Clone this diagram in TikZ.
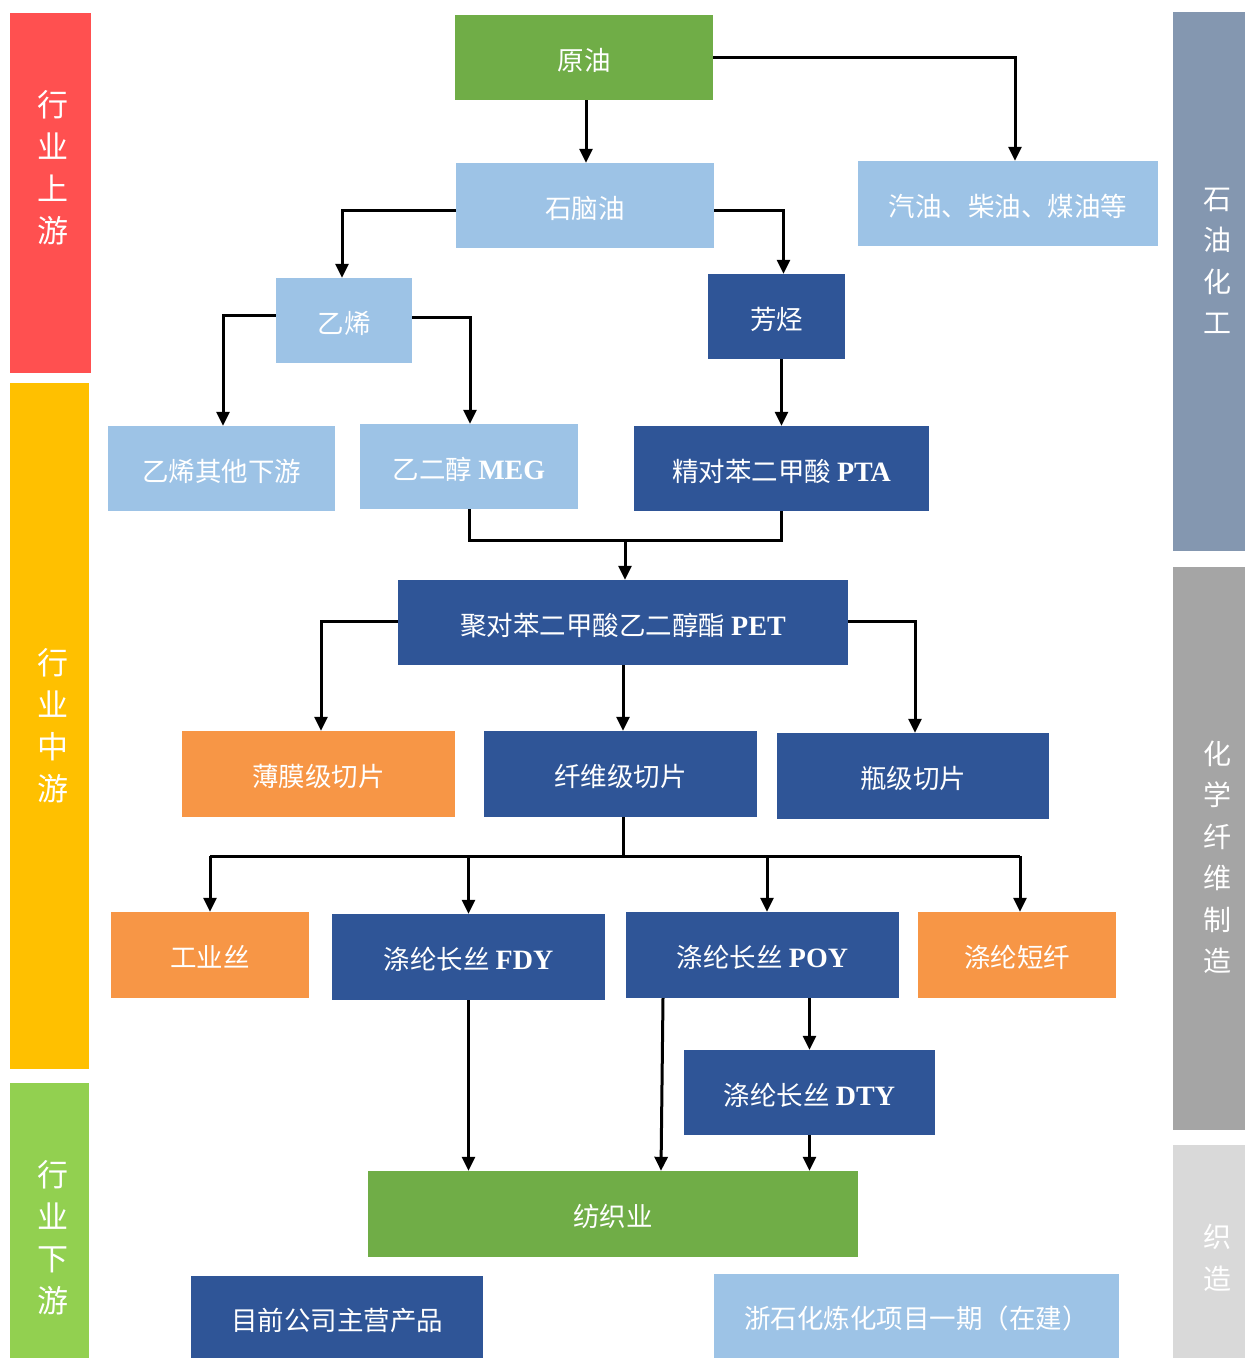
\documentclass[tikz,border=0pt]{standalone}
\usepackage{fontspec}
\setmainfont{Liberation Serif}
\newfontfamily\cjk{Noto Sans CJK SC}
\usetikzlibrary{arrows.meta}
\definecolor{cgreen}{HTML}{70AD47}
\definecolor{clblue}{HTML}{9DC3E6}
\definecolor{cdblue}{HTML}{2F5597}
\definecolor{corange}{HTML}{F79646}
\definecolor{cred}{HTML}{FF5050}
\definecolor{cyellow}{HTML}{FFC000}
\definecolor{clgreen}{HTML}{92D050}
\definecolor{cbgray}{HTML}{8497B0}
\definecolor{cgray}{HTML}{A5A5A5}
\definecolor{clgray}{HTML}{D9D9D9}
\newcommand{\lat}[1]{{\rmfamily\bfseries\fontsize{28}{32}\selectfont #1}}
\tikzset{
  box/.style={rectangle, draw=none, inner sep=0pt, text=white,
    text height=25pt, text depth=0pt,
    font=\cjk\fontsize{26.5}{30}\selectfont},
  bar/.style={rectangle, draw=none, inner sep=0pt},
  bartext/.style={text=white, align=center, inner sep=0pt},
  arr/.style={line width=3pt, -{Triangle[width=13pt,length=14pt]}},
  ln/.style={line width=3pt},
}
\begin{document}
\begin{tikzpicture}[x=1pt,y=-1pt]
\useasboundingbox (0,0) rectangle (1245,1358);
\fill[white] (0,0) rectangle (1245,1358);
% side bars
\fill[cred] (10,13) rectangle (91,373);
\fill[cyellow] (10,383) rectangle (89,1069);
\fill[clgreen] (10,1083) rectangle (89,1358);
\fill[cbgray] (1173,12) rectangle (1245,551);
\fill[cgray] (1173,567) rectangle (1245,1130);
\fill[clgray] (1173,1145) rectangle (1245,1358);
\node[bartext, font=\cjk\fontsize{31}{42}\selectfont] (t1) at (53,168) {行\\业\\上\\游};
\node[bartext, font=\cjk\fontsize{31}{42}\selectfont] (t2) at (53,726) {行\\业\\中\\游};
\node[bartext, font=\cjk\fontsize{31}{42}\selectfont] (t3) at (53,1238) {行\\业\\下\\游};
\node[bartext, font=\cjk\fontsize{28}{41.5}\selectfont] (t4) at (1217,261) {石\\油\\化\\工};
\node[bartext, font=\cjk\fontsize{28}{41.5}\selectfont] (t5) at (1217,857) {化\\学\\纤\\维\\制\\造};
\node[bartext, font=\cjk\fontsize{28}{41.5}\selectfont] (t6) at (1217,1258) {织\\造};
% boxes
\node[box, fill=cgreen, minimum width=258, minimum height=85] (yuanyou) at (584,57.5) {原油};
\node[box, fill=clblue, minimum width=258, minimum height=85] (naphtha) at (585,205.5) {石脑油};
\node[box, fill=clblue, minimum width=300, minimum height=85] (qiyou) at (1008,203.5) {汽油、柴油、煤油等};
\node[box, fill=clblue, minimum width=136, minimum height=85] (yixi) at (344,320.5) {乙烯};
\node[box, fill=cdblue, minimum width=137, minimum height=85] (fangting) at (776.5,316.5) {芳烃};
\node[box, fill=clblue, minimum width=227, minimum height=85] (yxother) at (221.5,468.5) {乙烯其他下游};
\node[box, fill=clblue, minimum width=218, minimum height=85] (meg) at (469,466.5) {乙二醇 \lat{MEG}};
\node[box, fill=cdblue, minimum width=295, minimum height=85] (pta) at (781.5,468.5) {精对苯二甲酸 \lat{PTA}};
\node[box, fill=cdblue, minimum width=450, minimum height=85] (pet) at (623,622.5) {聚对苯二甲酸乙二醇酯 \lat{PET}};
\node[box, fill=corange, minimum width=273, minimum height=86] (bomo) at (318.5,774) {薄膜级切片};
\node[box, fill=cdblue, minimum width=273, minimum height=86] (xianwei) at (620.5,774) {纤维级切片};
\node[box, fill=cdblue, minimum width=272, minimum height=86] (pingji) at (913,776) {瓶级切片};
\node[box, fill=corange, minimum width=198, minimum height=86] (gongye) at (210,955) {工业丝};
\node[box, fill=cdblue, minimum width=273, minimum height=86] (fdy) at (468.5,957) {涤纶长丝 \lat{FDY}};
\node[box, fill=cdblue, minimum width=273, minimum height=86] (poy) at (762.5,955) {涤纶长丝 \lat{POY}};
\node[box, fill=corange, minimum width=198, minimum height=86] (duanxian) at (1017,955) {涤纶短纤};
\node[box, fill=cdblue, minimum width=251, minimum height=85] (dty) at (809.5,1092.5) {涤纶长丝 \lat{DTY}};
\node[box, fill=cgreen, minimum width=490, minimum height=86] (fangzhi) at (613,1214) {纺织业};
\node[box, fill=cdblue, minimum width=292, minimum height=84] (zhuying) at (337,1318) {目前公司主营产品};
\node[box, fill=clblue, minimum width=405, minimum height=84] (zheshihua) at (916.5,1316) {浙石化炼化项目一期（在建）};
% connectors
\draw[arr] ([xshift=2pt]yuanyou.south) -- ([xshift=2pt]yuanyou.south |- naphtha.north);
\draw[arr] (yuanyou.east) -| ([xshift=7pt]qiyou.north);
\draw[arr] ([yshift=-4.5pt]naphtha.west) -| ([xshift=-2pt]yixi.north);
\draw[arr] ([yshift=-4.5pt]naphtha.east) -| ([xshift=7pt]fangting.north);
\draw[arr] ([yshift=5.5pt]yixi.west) -| ([xshift=1.5pt]yxother.north);
\draw[arr] ([yshift=3.5pt]yixi.east) -| ([xshift=1pt]meg.north);
\draw[arr] (fangting.south -| pta.north) -- (pta.north);
\coordinate (j1) at (625,540);
\draw[ln] (meg.south) |- (j1) -| (pta.south);
\draw[arr] (j1) -- (j1 |- pet.north);
\draw[arr] ([yshift=1.5pt]pet.west) -| ([xshift=2.5pt]bomo.north);
\draw[arr] (pet.south) -- (pet.south |- xianwei.north);
\draw[arr] ([yshift=1.5pt]pet.east) -| ([xshift=2pt]pingji.north);
\coordinate (bus) at (623,856);
\draw[ln] ([xshift=2.5pt]xianwei.south) -- (bus);
\draw[ln] (gongye.north |- bus) -- ([xshift=3pt]duanxian.north |- bus);
\draw[arr] (gongye.north |- bus) -- (gongye.north);
\draw[arr] (fdy.north |- bus) -- (fdy.north);
\draw[arr] ([xshift=4.5pt]poy.north |- bus) -- ([xshift=4.5pt]poy.north);
\draw[arr] ([xshift=3pt]duanxian.north |- bus) -- ([xshift=3pt]duanxian.north);
\draw[arr] (fdy.south) -- (fdy.south |- fangzhi.north);
\draw[arr] ([xshift=-99.5pt]poy.south) -- ([xshift=48pt]fangzhi.north);
\draw[arr] (dty.north |- poy.south) -- (dty.north);
\draw[arr] (dty.south) -- (dty.south |- fangzhi.north);
\end{tikzpicture}
\end{document}
